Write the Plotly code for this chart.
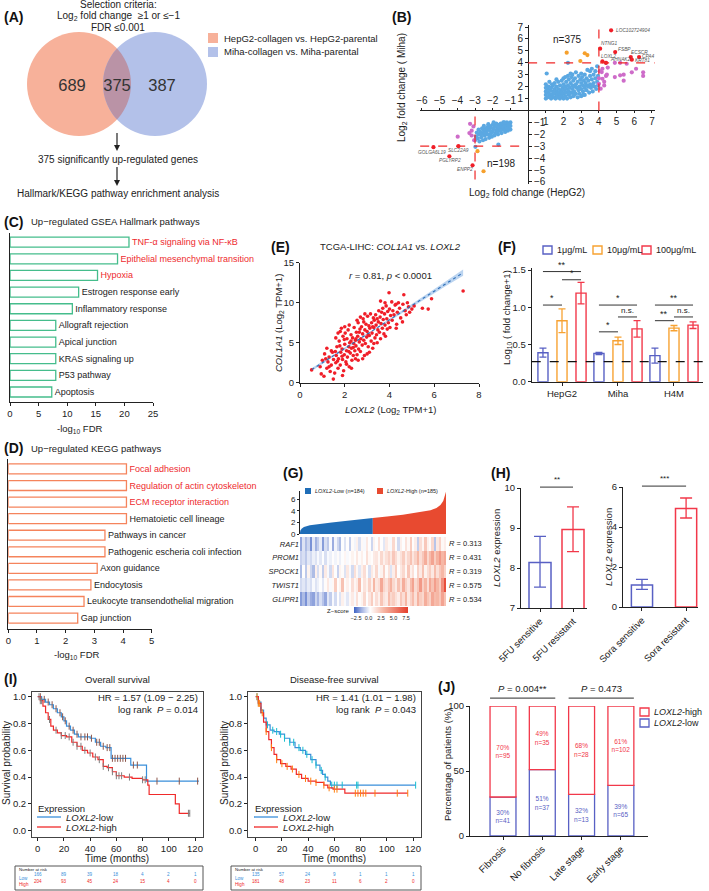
import numpy as np
import plotly.graph_objects as go

W, H = 709, 891
FONT = "Liberation Sans, Arial, Helvetica, sans-serif"
DARK = "#222222"

# ======================= DATA =======================
# (A) Venn
venn_sets = ["HepG2-collagen vs. HepG2-parental", "Miha-collagen vs. Miha-parental"]
venn_counts = [689, 375, 387]          # HepG2 only, shared, Miha only
venn_steps = ["375 significantly up-regulated genes", "Hallmark/KEGG pathway enrichment analysis"]

# (B) log2 fold change HepG2 (x) vs Miha (y)
b_blue_pos = [(1.0,1.0),(1.0,1.3),(1.0,1.6),(1.0,1.9),(1.0,2.2),(1.05,3.1),(1.1,1.1),(1.1,1.5),(1.1,1.8),(1.15,2.0),
              (1.2,1.2),(1.2,1.4),(1.25,1.7),(1.3,1.0),(1.3,1.9),(1.35,1.3),(1.4,1.6),(1.4,2.1),(1.45,1.1),(1.5,1.4),
              (1.5,1.8),(1.5,2.3),(1.55,1.0),(1.6,1.2),(1.6,1.6),(1.6,2.0),(1.65,1.4),(1.7,1.1),(1.7,1.8),(1.7,2.4),
              (1.75,1.5),(1.8,1.0),(1.8,1.3),(1.8,2.1),(1.85,1.7),(1.9,1.2),(1.9,1.5),(1.9,2.5),(1.95,1.9),(2.0,1.0),
              (2.0,1.4),(2.0,2.2),(2.0,2.7),(2.05,1.7),(2.1,1.2),(2.1,2.0),(2.15,1.5),(2.15,2.4),(2.2,1.0),(2.2,1.8),
              (2.25,2.9),(2.25,2.1),(2.3,1.3),(2.3,1.6),(2.3,2.6),(2.35,1.9),(2.4,1.1),(2.4,2.3),(2.45,1.5),(2.45,2.8),
              (2.5,1.8),(2.5,2.1),(2.5,3.0),(2.55,1.2),(2.55,2.5),(2.6,1.6),(2.6,2.0),(2.65,2.7),(2.7,1.4),(2.7,2.2),
              (2.7,3.2),(2.75,1.9),(2.8,1.1),(2.8,2.4),(2.85,1.7),(2.85,2.9),(2.9,2.0),(2.9,1.4),(2.95,2.6),(3.0,1.2),
              (3.0,1.8),(3.0,2.3),(3.0,3.1),(3.05,2.8),(3.1,1.6),(3.1,2.1),(3.15,2.5),(3.2,1.3),(3.2,1.9),(3.2,3.0),
              (3.25,2.3),(3.3,1.7),(3.3,2.7),(3.35,3.4),(3.4,2.0),(3.4,2.5),(3.45,1.5),(3.5,2.2),(3.5,2.9),(3.5,3.3),
              (3.55,1.9),(3.6,2.6),(3.6,3.5),(3.65,1.6),(3.7,2.3),(3.7,3.0),(3.75,2.0),(3.8,2.7),(3.8,3.3),(3.85,1.8),
              (3.9,2.4),(3.9,3.7),(3.95,2.1),(3.95,2.9),(2.25,4.0),(1.2,2.4),(1.35,2.2),(1.6,2.6),(2.1,2.8),(2.4,3.1),
              (1.25,1.1),(1.45,1.5),(1.65,1.1),(1.85,1.2),(2.05,1.1),(2.35,1.4),(2.6,1.3),(3.1,1.3),(3.3,2.1),(3.6,2.1)]
b_blue_neg = [(-1.0,-1.0),(-1.0,-1.3),(-1.0,-1.6),(-1.1,-1.1),(-1.1,-1.4),(-1.15,-1.7),(-1.2,-1.0),(-1.2,-1.25),
              (-1.25,-1.5),(-1.3,-1.1),(-1.3,-1.8),(-1.35,-1.35),(-1.4,-1.0),(-1.4,-1.6),(-1.45,-1.2),(-1.5,-1.45),
              (-1.5,-1.9),(-1.55,-1.1),(-1.6,-1.3),(-1.6,-1.7),(-1.68,-2.86),(-1.65,-1.5),(-1.7,-1.2),(-1.7,-2.0),
              (-1.75,-1.4),(-1.8,-1.65),(-1.8,-1.1),(-1.85,-1.9),(-1.9,-1.3),(-1.9,-2.1),(-1.95,-1.55),(-2.0,-1.2),
              (-2.0,-1.8),(-2.05,-2.2),(-2.1,-1.45),(-2.1,-1.95),(-2.15,-1.7),(-2.2,-1.3),(-2.2,-2.3),(-2.25,-1.6),
              (-2.3,-2.0),(-2.3,-1.4),(-2.35,-1.8),(-2.4,-2.4),(-2.4,-1.55),(-2.45,-2.1),(-2.5,-1.7),(-2.5,-1.3),
              (-2.55,-2.5),(-2.6,-1.95),(-2.6,-1.5),(-2.65,-2.25),(-2.7,-1.8),(-2.75,-2.6),(-2.8,-2.0),(-2.8,-1.6),
              (-2.85,-2.35),(-2.9,-1.85),(-2.95,-2.2),(-3.0,-2.5),(-2.98,-3.05),(-1.2,-1.5),(-1.55,-1.7),(-1.95,-1.0),
              (-2.15,-2.05),(-2.45,-1.9),(-1.35,-1.0),(-1.75,-1.8),(-2.25,-1.15),(-2.65,-2.0)]
b_pink = [(4.16,3.22),(4.2,2.66),(4.0,2.24),(4.3,2.1),(4.1,1.83),(4.4,2.9),(4.5,3.6),(4.9,2.8),(5.2,2.95),(5.57,3.92),
          (5.2,4.0),(5.4,3.0),(5.4,2.5),(5.86,3.2),(6.1,3.5),(6.5,3.2),(6.5,2.9),(4.2,3.5),(4.45,3.0),(4.05,3.3),
          (4.4,4.0),(4.0,2.7),(4.9,4.0),(4.3,2.4),
          (-3.28,-1.12),(-3.09,-1.34),(-3.32,-1.9),(-3.19,-2.1),(-3.98,-2.2),(-3.05,-2.5),(-3.19,-1.7)]
b_orange = [(2.18,4.85),(3.2,4.8),(3.35,4.65),(2.95,4.15),(-2.86,-3.42),(-2.52,-5.1)]
b_red_genes = [("LOC102724904",4.69,6.72),("NTNG1",4.07,5.18),("FSBP",4.92,4.9),("ECSCR",5.8,4.48),("CPA4",6.27,4.48),
               ("LOXL2",4.2,4.12),("AHNAK2",4.4,4.0),("KRT81",5.86,4.26),
               ("GOLGA6L19",-5.35,-3.08),("SLC22A9",-3.94,-3.0),("PGLYRP2",-4.45,-3.84),("ENPP2",-3.14,-4.6)]
b_counts = ["n=375", "n=198"]

# (C) Hallmark
hallmark_names = ["TNF-α signaling via NF-κB", "Epithelial mesenchymal transition", "Hypoxia",
                  "Estrogen response early", "Inflammatory response", "Allograft rejection",
                  "Apical junction", "KRAS signaling up", "P53 pathway", "Apoptosis"]
hallmark_logfdr = [20.8, 18.8, 15.3, 12.0, 10.9, 8.0, 8.0, 8.0, 8.0, 7.3]
# (D) KEGG
kegg_names = ["Focal adhesion", "Regulation of actin cytoskeleton", "ECM receptor interaction",
              "Hematoietic cell lineage", "Pathways in cancer", "Pathogenic escheria coli infection",
              "Axon guidance", "Endocytosis", "Leukocyte transendothelial migration", "Gap junction"]
kegg_logfdr = [4.12, 4.12, 4.12, 4.12, 3.37, 3.37, 3.1, 2.88, 2.64, 2.42]
highlight_n = 3

# (E) TCGA-LIHC COL1A1 vs LOXL2 (log2 TPM+1)
tcga_pairs = [(0.52,1.6),(0.95,1.1),(1.07,0.8),(1.49,0.45),(0.9,2.0),(1.0,2.8),(1.1,3.6),(1.2,1.8),(1.25,2.6),(1.3,3.2),
    (1.35,1.4),(1.4,2.2),(1.45,3.8),(1.5,2.9),(1.15,3.0),(1.4,4.0),(1.3,2.0),(1.2,4.3),
    (1.55,1.2),(1.6,2.5),(1.62,3.4),(1.65,4.5),(1.7,1.8),(1.72,3.0),(1.75,5.2),(1.8,2.2),(1.82,3.8),(1.85,6.8),
    (1.88,4.2),(1.9,2.9),(1.92,5.8),(1.95,1.5),(1.98,3.5),(2.0,4.8),(2.02,6.2),(2.05,2.6),(2.08,4.0),(2.1,5.5),
    (2.12,3.2),(2.15,6.6),(2.18,4.5),(2.2,2.0),(2.22,5.0),(2.25,3.7),(2.28,6.0),(2.3,4.3),(2.32,2.8),(2.35,5.6),
    (2.38,3.4),(2.4,4.9),(2.42,6.9),(2.45,4.0),(2.48,5.3),(1.6,5.6),(1.7,6.2),(1.8,6.4),(2.0,7.0),(2.2,7.2),
    (1.58,3.9),(1.68,2.7),(1.78,4.6),(1.88,3.3),(1.98,5.4),(2.08,2.3),(2.18,3.9),(2.28,5.2),(2.38,4.4),(2.48,3.0),
    (1.9,0.9),(2.3,1.8),
    (2.5,4.6),(2.52,6.3),(2.55,3.5),(2.58,5.8),(2.6,7.5),(2.62,4.2),(2.65,5.1),(2.68,6.7),(2.7,3.9),(2.72,5.5),
    (2.75,7.0),(2.78,4.7),(2.8,6.1),(2.82,8.0),(2.85,5.3),(2.88,3.4),(2.9,6.6),(2.92,4.9),(2.95,7.3),(2.98,5.7),
    (3.0,6.4),(3.02,8.3),(3.05,4.5),(3.08,7.1),(3.1,5.9),(3.12,6.8),(3.15,8.6),(3.18,5.2),(3.2,7.5),(3.22,6.2),
    (3.25,4.3),(3.28,8.1),(3.3,6.9),(3.32,7.8),(3.35,5.6),(3.38,8.5),(3.4,7.2),(3.42,6.0),(3.45,8.0),(3.48,6.6),
    (2.55,7.8),(2.7,8.2),(2.9,8.6),(3.1,3.8),(3.3,4.9),(2.6,2.8),(2.8,3.0),(3.0,3.6),(2.5,5.5),(2.65,6.3),
    (2.85,7.6),(3.05,6.0),(3.25,7.0),(3.45,5.0),
    (3.5,7.6),(3.52,9.0),(3.55,6.3),(3.58,8.2),(3.6,5.5),(3.62,7.4),(3.65,8.8),(3.68,6.8),(3.7,9.3),(3.72,7.9),
    (3.75,6.1),(3.78,8.6),(3.8,7.2),(3.82,5.8),(3.85,9.6),(3.88,8.0),(3.9,6.7),(3.92,8.9),(3.95,7.5),(3.98,11.25),
    (4.0,9.2),(4.02,6.9),(4.05,8.4),(4.1,10.1),(4.12,7.8),(4.15,9.0),(4.2,8.5),(4.25,9.7),(4.29,9.8),(4.32,7.3),
    (4.35,8.8),(4.4,10.0),(4.45,9.3),(4.5,8.1),(3.6,10.2),(3.8,10.0),(4.3,6.8),
    (4.58,7.6),(4.64,11.0),(4.7,9.0),(4.75,8.5),(4.8,10.0),(4.85,9.5),(5.0,9.2),(5.1,9.6),(5.47,9.3),(5.73,9.2),
    (5.88,10.5),(7.29,11.46),(4.6,9.8),(4.9,8.8)]
tcga_fit = (1.79, 0.70)   # slope, intercept of the drawn regression line
tcga_stat = "<i>r</i> = 0.81, <i>p</i> < 0.0001"

# (F)
f_groups = ["HepG2", "Miha", "H4M"]
f_doses = ["1μg/mL", "10μg/mL", "100μg/mL"]
f_means = [[0.39, 0.38, 0.35], [0.82, 0.55, 0.72], [1.19, 0.71, 0.76]]
f_errs = [[0.06, 0.015, 0.10], [0.16, 0.05, 0.035], [0.145, 0.11, 0.045]]
f_baseline = 0.27
f_sig = [(0, 0, 2, 1.48, "**"), (0, 1, 2, 1.37, "*"), (0, 0, 1, 1.03, "*"),
         (1, 0, 2, 1.03, "*"), (1, 1, 2, 0.87, "n.s."), (1, 0, 1, 0.67, "*"),
         (2, 0, 2, 1.03, "**"), (2, 1, 2, 0.87, "n.s."), (2, 0, 1, 0.82, "**")]

# (G)
g_groups = ["Low (n=184)", "High (n=185)"]
g_n_low = 184
g_curve_idx = [0, 1, 4, 10, 25, 50, 80, 120, 160, 184, 185, 220, 260, 300, 330, 345, 355, 362, 366, 369]
g_curve_val = [0.3, 0.6, 0.9, 1.2, 1.5, 1.75, 2.0, 2.3, 2.55, 2.75, 2.76, 3.0, 3.3, 3.7, 4.1, 4.5, 5.0, 5.7, 6.5, 7.3]
g_genes = ["RAF1", "PROM1", "SPOCK1", "TWIST1", "GLIPR1"]
g_R = ["0.313", "0.431", "0.319", "0.575", "0.534"]
g_heat = [
    [-1.6,-0.3,-1.2,-0.6,-2.0,-0.2,-1.4,-0.8,-0.1,-1.8,-0.4,-0.9,0.2,-1.5,0.1,-0.6,-1.2,0.3,-0.3,0.4,
     -0.8,0.5,0.1,0.9,-0.4,0.6,0.2,1.2,0.3,-0.6,0.8,0.3,1.5,0.4,-0.2,1.1,0.6,0.2,1.8,0.5,
     -0.5,0.9,0.3,1.4,0.6,2.2,0.4,1.0,-0.8,1.6,0.7,2.4,0.9,0.5,1.8,-1.0,1.2,2.0,0.6,1.0],
    [-0.7,-0.4,-0.9,-0.2,-0.5,0.0,-0.3,0.2,-0.2,0.3,-0.4,0.2,0.0,0.4,0.1,0.5,0.0,0.3,0.7,0.2,
     0.4,0.8,0.3,1.2,0.5,0.9,0.3,1.5,0.6,0.4,1.1,1.3,0.6,1.8,0.9,1.5,2.0,1.2,2.4,1.6,
     0.8,1.4,2.2,1.0,1.8,2.6,1.3,2.0,3.0,1.6,2.4,3.4,1.8,2.8,3.8,2.2,3.2,4.2,3.0,3.6],
    [-1.2,0.4,-0.9,0.8,-0.6,-1.2,0.9,-0.4,0.6,-0.8,1.1,0.2,-0.5,1.3,0.3,-0.7,0.8,0.5,-0.3,1.2,
     0.2,-0.5,1.5,0.6,-0.2,0.9,1.6,0.3,-0.4,1.1,0.6,1.8,0.2,0.8,2.0,0.5,1.4,-0.3,1.0,2.2,
     0.4,1.2,1.8,0.6,2.4,0.9,1.5,0.3,2.0,1.1,2.6,0.8,1.6,2.2,1.2,2.8,1.5,2.4,3.0,2.0],
    [-0.5,-0.2,-0.6,-0.1,-0.4,0.2,-0.3,0.0,0.3,-0.2,0.5,1.2,0.2,0.6,2.2,0.4,0.8,2.6,0.5,0.9,
     0.3,1.6,0.7,1.1,2.8,0.5,1.4,0.8,2.0,0.9,3.0,1.2,1.6,3.6,1.9,1.4,2.4,3.2,1.8,1.1,
     2.6,1.5,3.4,2.0,1.3,2.8,3.8,1.7,2.4,4.2,2.1,3.0,1.6,3.6,2.6,4.0,3.0,2.2,4.6,7.2],
    [-1.8,-1.2,-2.0,-0.8,-1.5,-1.7,-0.6,-1.3,-0.4,-1.0,-1.6,-0.2,-0.8,0.2,-0.5,0.4,-0.3,0.9,0.2,-0.2,
     0.6,1.1,0.2,1.5,0.5,0.8,1.8,0.3,1.3,2.2,0.6,1.6,0.9,2.5,1.4,1.1,2.8,1.8,2.2,1.5,
     1.0,2.4,1.6,3.0,1.2,2.0,2.8,1.5,3.2,2.2,1.8,3.4,2.5,2.0,3.6,2.8,3.0,2.4,3.8,2.6]]
g_ticks = [-2.5, 0.0, 2.5, 5.0, 7.5]

# (H)
h_fu_labels = ["5FU sensitive", "5FU resistant"]
h_fu_mean = [8.14, 8.96]
h_fu_lo = [7.52, 8.41]
h_fu_hi = [8.79, 9.53]
h_so_labels = ["Sora sensitive", "Sora resistant"]
h_so_mean = [1.10, 4.93]
h_so_lo = [0.88, 4.45]
h_so_hi = [1.38, 5.45]
h_sig = ["**", "***"]

# (I) Kaplan-Meier
os_low_t = [0, 3, 6, 9, 12, 15, 18, 20, 22, 25, 28, 31, 40, 44, 48, 52, 56, 71, 83, 123]
os_low_s = [1.0, 0.98, 0.96, 0.94, 0.91, 0.88, 0.85, 0.82, 0.78, 0.75, 0.72, 0.70, 0.69, 0.66, 0.63, 0.62, 0.54, 0.49, 0.37, 0.37]
os_high_t = [0, 2, 4, 6, 8, 10, 12, 15, 18, 22, 26, 30, 34, 38, 42, 46, 50, 53, 57, 60, 66, 72, 80, 84, 85, 104, 105, 108, 116]
os_high_s = [1.0, 0.97, 0.93, 0.88, 0.83, 0.78, 0.75, 0.73, 0.71, 0.70, 0.66, 0.63, 0.60, 0.58, 0.55, 0.53, 0.48, 0.47, 0.44, 0.41, 0.40, 0.39, 0.38, 0.34, 0.27, 0.27, 0.20, 0.13, 0.13]
os_low_cens = [2, 5, 8, 11, 14, 17, 19, 21, 24, 27, 30, 33, 36, 38, 41, 45, 47, 50, 53, 55, 57, 59, 61, 63, 65, 67, 73, 76, 91, 108, 122]
os_high_cens = [1, 2, 3, 9, 14, 18, 21, 24, 27, 30, 33, 36, 40, 44, 47, 50, 54, 57, 60, 62, 64, 70, 80, 82, 115, 116]
dfs_low_t = [0, 2, 4, 6, 8, 11, 14, 18, 22, 26, 30, 34, 38, 42, 46, 49, 51, 53, 55, 57, 122]
dfs_low_s = [1.0, 0.96, 0.90, 0.84, 0.79, 0.75, 0.74, 0.72, 0.69, 0.66, 0.62, 0.60, 0.57, 0.53, 0.49, 0.45, 0.42, 0.40, 0.37, 0.34, 0.34]
dfs_high_t = [0, 2, 4, 6, 8, 10, 12, 14, 16, 19, 23, 27, 31, 35, 40, 46, 52, 55, 59, 68, 116]
dfs_high_s = [1.0, 0.95, 0.88, 0.81, 0.74, 0.68, 0.62, 0.57, 0.53, 0.50, 0.48, 0.46, 0.42, 0.39, 0.37, 0.36, 0.34, 0.32, 0.31, 0.28, 0.28]
dfs_low_cens = [1, 2, 4, 6, 9, 13, 16, 19, 22, 26, 29, 33, 36, 39, 43, 46, 50, 53, 58, 60, 62, 66, 77, 78, 122]
dfs_high_cens = [1, 2, 3, 5, 8, 12, 16, 20, 24, 28, 33, 38, 42, 46, 52, 56, 60, 62, 76, 78, 80, 82, 84, 91, 108, 116]
km_titles = ["Overall survival", "Disease-free survival"]
km_hr = ["HR = 1.57 (1.09 − 2.25)", "HR = 1.41 (1.01 − 1.98)"]
km_p = ["0.014", "0.043"]
risk_times = [0, 20, 40, 60, 80, 100, 120]
os_risk_low = [166, 89, 39, 18, 4, 2, 1]
os_risk_high = [204, 93, 45, 24, 15, 4, 0]
dfs_risk_low = [135, 57, 24, 9, 1, 1, 1]
dfs_risk_high = [181, 48, 23, 11, 6, 2, 0]

# (J)
j_cats = ["Fibrosis", "No fibrosis", "Late stage", "Early stage"]
j_low_pct = [30, 51, 32, 39]
j_high_pct = [70, 49, 68, 61]
j_low_n = [41, 37, 13, 65]
j_high_n = [95, 35, 28, 102]
j_pvals = ["0.004**", "0.473"]

# ======================= STYLE / HELPERS =======================
BLUE_F, ORANGE_F, RED_F = "#5860C4", "#F7A232", "#F2384A"
GREEN_C, ORANGE_D, RED_TXT = "#45BD8C", "#F5845C", "#EE2A2E"
KM_BLUE, KM_RED = "#3A8FDA", "#F02A2A"

def PX(x): return x / W
def PY(y): return 1 - y / H

fig = go.Figure()
ann, shp, axes, AXI = [], [], {}, {}

def text(t, x, y, size=10, color=DARK, xa="center", ya="middle", angle=0, xref="paper", yref="paper", pad=1):
    if xref == "paper": x = PX(x)
    if yref == "paper": y = PY(y)
    ann.append(dict(text=t, x=x, y=y, xref=xref, yref=yref, showarrow=False, textangle=angle, borderpad=pad,
                    font=dict(size=size, color=color, family=FONT), xanchor=xa, yanchor=ya))

AX = dict(showgrid=False, zeroline=False, showline=True, linecolor=DARK, linewidth=1, automargin=False,
          ticks="outside", ticklen=3, tickwidth=1, tickcolor=DARK,
          tickfont=dict(size=9.5, color=DARK, family=FONT))

def set_axes(n, xpx, ypx, xr, yr, xkw=None, ykw=None):
    s = "" if n == 1 else str(n)
    xa = dict(AX, domain=[PX(xpx[0]), PX(xpx[1])], range=xr, anchor="y" + s)
    ya = dict(AX, domain=[PY(ypx[1]), PY(ypx[0])], range=yr, anchor="x" + s)
    if xkw: xa.update(xkw)
    if ykw: ya.update(ykw)
    axes["xaxis" + s] = xa
    axes["yaxis" + s] = ya
    AXI[n] = (xpx, ypx, xr, yr)

def ypaper(n, v):
    xpx, ypx, xr, yr = AXI[n]
    f = (v - yr[0]) / (yr[1] - yr[0])
    return PY(ypx[1]) + f * (PY(ypx[0]) - PY(ypx[1]))

def panel(letter, x, y):
    text(f"<b>({letter})</b>", x, y, size=14, color="#111", xa="left")

# ======================= (A) Venn =======================
set_axes(1, (0, 330), (0, 200), [0, 330], [200, 0], xkw=dict(visible=False), ykw=dict(visible=False))
cxL, cxR, cy, r = 79, 155, 84, 52
C_L, C_R, C_M = "#F7B19A", "#B3C1E9", "#BA93A6"
shp.append(dict(type="circle", xref="x", yref="y", x0=cxL - r, x1=cxL + r, y0=cy - r, y1=cy + r,
                fillcolor=C_L, line=dict(width=0), layer="below"))
shp.append(dict(type="circle", xref="x", yref="y", x0=cxR - r, x1=cxR + r, y0=cy - r, y1=cy + r,
                fillcolor=C_R, line=dict(width=0), layer="below"))
a = np.arccos((cxR - cxL) / 2 / r)
pts = [(cxL + r * np.cos(t), cy + r * np.sin(t)) for t in np.linspace(-a, a, 40)]
pts += [(cxR + r * np.cos(t), cy + r * np.sin(t)) for t in np.linspace(np.pi - a, np.pi + a, 40)]
shp.append(dict(type="path", xref="x", yref="y", layer="below", fillcolor=C_M, line=dict(width=0),
                path="M " + " L ".join(f"{p[0]:.2f},{p[1]:.2f}" for p in pts) + " Z"))
fig.add_trace(go.Scatter(x=[72, 117, 162], y=[87, 87, 87], mode="text", text=[str(c) for c in venn_counts],
                         textfont=dict(size=16.5, color="#333", family=FONT), xaxis="x", yaxis="y", hoverinfo="skip"))
text("Selection criteria:", 118, 5)
text("Log<sub>2</sub> fold change  ≥1 or ≤−1", 118, 16)
text("FDR ≤0.001", 118, 28)
for i, (lab, col) in enumerate(zip(venn_sets, [C_L, C_R])):
    yy = 38 + 14 * i
    shp.append(dict(type="rect", xref="paper", yref="paper", x0=PX(208), x1=PX(218), y0=PY(yy + 5), y1=PY(yy - 5),
                    fillcolor=col, line=dict(width=0)))
    text(lab, 222, yy, size=9.5, xa="left")
for (y0, y1) in [(133, 151), (167, 186)]:
    shp.append(dict(type="line", xref="x", yref="y", x0=117, x1=117, y0=y0, y1=y1 - 3, line=dict(color="#222", width=1.2)))
    shp.append(dict(type="path", xref="x", yref="y", path=f"M 114,{y1 - 6} L 120,{y1 - 6} L 117,{y1} Z",
                    fillcolor="#222", line=dict(width=0)))
text(venn_steps[0], 118, 160)
text(venn_steps[1], 118, 193)
panel("A", 2, 17)

# ======================= (B) =======================
bxr, byr = [-6.11, 7.17], [-6.17, 7.17]
BTF = dict(size=10, color=DARK, family=FONT)
axes["xaxis2"] = dict(AX, domain=[PX(420), PX(655)], range=bxr, anchor="free", position=PY(110),
                      tickvals=[1, 2, 3, 4, 5, 6, 7], side="bottom", tickfont=BTF, ticklen=2)
axes["yaxis2"] = dict(AX, domain=[PY(184), PY(25)], range=byr, anchor="free", position=PX(528),
                      tickvals=[1, 2, 3, 4, 5, 6, 7], side="left", tickfont=BTF)
axes["xaxis3"] = dict(AX, overlaying="x2", range=bxr, anchor="free", position=PY(110), side="top",
                      tickvals=[-6, -5, -4, -3, -2, -1], showline=False, tickfont=BTF, ticklen=2)
axes["yaxis3"] = dict(AX, overlaying="y2", range=byr, anchor="free", position=PX(528), side="right",
                      tickvals=[-1, -2, -3, -4, -5, -6], showline=False, tickfont=BTF, ticklen=3)
fig.add_trace(go.Scatter(x=[0], y=[0], xaxis="x3", yaxis="y3", mode="markers", marker=dict(opacity=0), hoverinfo="skip"))
for (x0, x1, y0, y1) in [(4, 4, 0, 7.15), (0, 7.15, 4, 4), (-3, -3, -0.5, -6.15), (-6.1, 0, -3, -3)]:
    shp.append(dict(type="line", xref="x2", yref="y2", x0=x0, x1=x1, y0=y0, y1=y1,
                    line=dict(color="#F02828", width=1.2, dash="dash")))
def sc(pairs, col, size=4.2):
    fig.add_trace(go.Scatter(x=[p[0] for p in pairs], y=[p[1] for p in pairs], mode="markers",
                             marker=dict(color=col, size=size, line=dict(width=0)), xaxis="x2", yaxis="y2",
                             hoverinfo="skip", cliponaxis=False))
sc(b_blue_pos + b_blue_neg, "#5BA8E2")
sc(b_pink, "#CE6CC9")
sc(b_orange, "#F6A02C")
sc([(g[1], g[2]) for g in b_red_genes], "#F01E28")
b_label_pos = {"LOC102724904": (4.9, 6.75, "left"), "NTNG1": (4.08, 5.6, "left"), "FSBP": (5.0, 5.15, "left"),
               "ECSCR": (5.75, 4.85, "left"), "CPA4": (6.38, 4.55, "left"), "LOXL2": (4.05, 4.55, "left"),
               "AHNAK2": (4.55, 4.25, "left"), "KRT81": (5.98, 4.22, "left"),
               "GOLGA6L19": (-5.45, -3.55, "center"), "SLC22A9": (-3.95, -3.4, "center"),
               "PGLYRP2": (-4.4, -4.22, "center"), "ENPP2": (-3.55, -4.95, "center")}
for g, gx, gy in b_red_genes:
    lx, ly, anc = b_label_pos[g]
    text(f"<i>{g}</i>", lx, ly, size=4.8, color="#555", xa=anc, xref="x2", yref="y2", pad=0)
text(b_counts[0], 2.2, 5.95, size=10, xref="x2", yref="y2")
text(b_counts[1], -1.5, -4.43, size=10, xref="x2", yref="y2")
text("Log<sub>2</sub> fold change (HepG2)", 527, 193, size=10)
text("Log<sub>2</sub> fold change ( Miha)", 402, 88, size=10, angle=-90)
panel("B", 390, 17)

# ======================= (C) =======================
def hbar(n, names, vals, col):
    fig.add_trace(go.Bar(x=vals, y=list(range(len(vals))), orientation="h", width=0.6,
                         marker=dict(color="white", line=dict(color=col, width=1.3)),
                         text=names, textposition="outside", constraintext="none", cliponaxis=False,
                         textfont=dict(size=9, family=FONT,
                                       color=[RED_TXT if i < highlight_n else DARK for i in range(len(vals))]),
                         xaxis=f"x{n}", yaxis=f"y{n}", hoverinfo="skip"))
set_axes(4, (10, 153), (233, 402), [0, 25], [9.6, -0.55], xkw=dict(tickvals=[0, 5, 10, 15, 20, 25]),
         ykw=dict(showticklabels=False, ticks=""))
hbar(4, hallmark_names, hallmark_logfdr, GREEN_C)
text("-log<sub>10</sub> FDR", 80, 429, size=9.5)
panel("C", 2, 222)
text("Up−regulated GSEA Hallmark pathways", 29, 222, size=9.5, xa="left")

# ======================= (D) =======================
set_axes(5, (8.3, 151.7), (459, 629), [0, 5], [9.66, -0.6], xkw=dict(tickvals=[0, 1, 2, 3, 4, 5]),
         ykw=dict(showticklabels=False, ticks=""))
hbar(5, kegg_names, kegg_logfdr, ORANGE_D)
text("-log<sub>10</sub> FDR", 77, 655, size=9.5)
panel("D", 2, 448)
text("Up−regulated KEGG pathways", 29, 448, size=9.5, xa="left")

# ======================= (E) =======================
set_axes(6, (300, 479), (262.7, 382.7), [0, 8], [0, 15], xkw=dict(tickvals=[0, 2, 4, 6, 8]),
         ykw=dict(tickvals=[0, 5, 10, 15]))
ex = np.array([p[0] for p in tcga_pairs]); ey = np.array([p[1] for p in tcga_pairs])
xx = np.linspace(ex.min(), ex.max(), 60)
yy = tcga_fit[0] * xx + tcga_fit[1]
hw = 0.1 + 0.015 * (xx - ex.mean()) ** 2
fig.add_trace(go.Scatter(x=xx, y=yy - hw, mode="lines", line=dict(width=0), xaxis="x6", yaxis="y6", hoverinfo="skip"))
fig.add_trace(go.Scatter(x=xx, y=yy + hw, mode="lines", line=dict(width=0), fill="tonexty",
                         fillcolor="rgba(120,170,225,0.5)", xaxis="x6", yaxis="y6", hoverinfo="skip"))
fig.add_trace(go.Scatter(x=ex, y=ey, mode="markers", marker=dict(color="#F01E28", size=3.6, line=dict(width=0)),
                         xaxis="x6", yaxis="y6", hoverinfo="skip", cliponaxis=False))
fig.add_trace(go.Scatter(x=xx, y=yy, mode="lines", line=dict(color="#2F6FB8", width=1.1, dash="dot"),
                         xaxis="x6", yaxis="y6", hoverinfo="skip"))
text("TCGA-LIHC: <i>COL1A1</i> vs. <i>LOXL2</i>", 390, 247, size=9.5)
text(tcga_stat, 390, 275, size=9.5)
text("<i>LOXL2</i> (Log<sub>2</sub> TPM+1)", 390, 410, size=9.5)
text("<i>COL1A1</i> (Log<sub>2</sub> TPM+1)", 279, 323, size=9.5, angle=-90)
panel("E", 269, 247)

# ======================= (F) =======================
set_axes(7, (531.7, 703), (268, 381.7), [-0.541, 2.518], [0, 1.528],
         xkw=dict(tickvals=[0, 1, 2], ticktext=f_groups), ykw=dict(tickvals=[0, 0.5, 1.0, 1.5], tickformat=".1f"))
f_off = [-0.34, 0.0, 0.34]
f_cols = [BLUE_F, ORANGE_F, RED_F]
for d in range(3):
    fig.add_trace(go.Bar(x=[g + f_off[d] for g in range(3)], y=f_means[d], width=0.18,
                         marker=dict(color="white", line=dict(color=f_cols[d], width=1.4)),
                         error_y=dict(type="data", array=f_errs[d], color=f_cols[d], thickness=1.3, width=3.5),
                         xaxis="x7", yaxis="y7", hoverinfo="skip"))
shp.append(dict(type="line", xref="x7 domain", yref="y7", x0=0, x1=1, y0=f_baseline, y1=f_baseline,
                line=dict(color="#111", width=1.1, dash="dash")))
for g, d0, d1, yv, lab in f_sig:
    xa_, xb_ = g + f_off[d0], g + f_off[d1]
    shp.append(dict(type="line", xref="x7", yref="y7", x0=xa_, x1=xb_, y0=yv, y1=yv, line=dict(color="#333", width=1)))
    text(lab, (xa_ + xb_) / 2, yv, size=8 if lab == "n.s." else 9, xref="x7", yref="y7", ya="bottom")
text("Log<sub>10</sub> ( fold change+1)", 507, 318, size=9.5, angle=-90)
for i, (lab, col) in enumerate(zip(f_doses, f_cols)):
    x0 = [543, 593, 642][i]
    shp.append(dict(type="rect", xref="paper", yref="paper", x0=PX(x0), x1=PX(x0 + 9), y0=PY(254), y1=PY(246),
                    fillcolor="white", line=dict(color=col, width=1.4)))
    text(lab, x0 + 12, 250, size=9, xa="left")
panel("F", 496, 247)

# ======================= (G) =======================
set_axes(8, (300, 446), (491, 534), [0, 369], [0, 7.41],
         xkw=dict(showline=False, showticklabels=False, ticks=""),
         ykw=dict(tickvals=[0, 2, 4, 6], tickfont=dict(size=8, color=DARK, family=FONT), ticklen=2))
lo_i = [i for i in g_curve_idx if i <= g_n_low]; lo_v = g_curve_val[:len(lo_i)]
hi_i = [g_n_low] + [i for i in g_curve_idx if i > g_n_low]
hi_v = [lo_v[-1]] + g_curve_val[len(lo_i):]
fig.add_trace(go.Scatter(x=lo_i, y=lo_v, fill="tozeroy", mode="lines", line=dict(width=0), fillcolor="#1F6DB7",
                         xaxis="x8", yaxis="y8", hoverinfo="skip"))
fig.add_trace(go.Scatter(x=hi_i, y=hi_v, fill="tozeroy", mode="lines", line=dict(width=0), fillcolor="#E84A30",
                         xaxis="x8", yaxis="y8", hoverinfo="skip"))
set_axes(9, (300, 446), (537, 606), [-0.5, len(g_heat[0]) - 0.5], [4.5, -0.5],
         xkw=dict(showline=False, showticklabels=False, ticks=""),
         ykw=dict(showline=False, ticks="", tickvals=list(range(5)), ticktext=[f"<i>{g}</i>" for g in g_genes],
                  tickfont=dict(size=7.5, color=DARK, family=FONT)))
fig.add_trace(go.Heatmap(z=g_heat, x=list(range(len(g_heat[0]))), y=list(range(5)), zmin=-2.9, zmax=7.9,
                         colorscale=[[0, "#3F63C4"], [0.15, "#A9B8E4"], [0.3, "#FFFFFF"], [0.55, "#F6B6A4"], [1, "#E53E2B"]],
                         xaxis="x9", yaxis="y9", hoverinfo="skip",
                         colorbar=dict(orientation="h", x=PX(381), xanchor="center", y=PY(607), yanchor="top",
                                       len=54, lenmode="pixels", thickness=6, thicknessmode="pixels", xpad=0, ypad=0,
                                       outlinewidth=0, tickvals=g_ticks, ticktext=[f"{t:.1f}".replace("-", "−") for t in g_ticks],
                                       ticks="", tickfont=dict(size=5.5, color=DARK, family=FONT))))
for i, rv in enumerate(g_R):
    text(f"<i>R</i> = {rv}", 447, 543.9 + 13.8 * i, size=7.5, xa="left")
text("Z−score", 352, 611, size=6, xa="right")
for i, (lab, col) in enumerate(zip(g_groups, ["#1F6DB7", "#E84A30"])):
    x0 = [305, 377][i]
    shp.append(dict(type="rect", xref="paper", yref="paper", x0=PX(x0), x1=PX(x0 + 6), y0=PY(494), y1=PY(488),
                    fillcolor=col, line=dict(width=0)))
    text(f"<i>LOXL2</i>-{lab}", x0 + 8, 491, size=5.5, xa="left")
panel("G", 281, 473)

# ======================= (H) =======================
def hpanel(n, labels, means, lo, hi, bw):
    fig.add_trace(go.Bar(x=[0, 1], y=means, width=bw,
                         marker=dict(color="white", line=dict(color=[BLUE_F, RED_F], width=1.5)),
                         xaxis=f"x{n}", yaxis=f"y{n}", hoverinfo="skip"))
    for i, col in enumerate([BLUE_F, RED_F]):
        fig.add_trace(go.Scatter(x=[i], y=[means[i]], mode="markers", marker=dict(size=0.1, color=col),
                                 error_y=dict(type="data", symmetric=False, array=[hi[i] - means[i]],
                                              arrayminus=[means[i] - lo[i]], color=col, thickness=1.3, width=6),
                                 xaxis=f"x{n}", yaxis=f"y{n}", hoverinfo="skip"))
set_axes(10, (521, 587), (488, 608), [-0.576, 1.424], [7, 10],
         xkw=dict(tickvals=[0, 1], ticktext=h_fu_labels, tickangle=-45), ykw=dict(tickvals=[7, 8, 9, 10]))
hpanel(10, h_fu_labels, h_fu_mean, h_fu_lo, h_fu_hi, 0.667)
set_axes(11, (623, 698), (487, 607), [-0.43, 1.27], [0, 6],
         xkw=dict(tickvals=[0, 1], ticktext=h_so_labels, tickangle=-45), ykw=dict(tickvals=[0, 2, 4, 6]))
hpanel(11, h_so_labels, h_so_mean, h_so_lo, h_so_hi, 0.48)
for n, yv, lab in [(10, 10.0, h_sig[0]), (11, 6.0, h_sig[1])]:
    shp.append(dict(type="line", xref=f"x{n}", yref="paper", x0=0, x1=1, y0=ypaper(n, yv) + 0.001, y1=ypaper(n, yv) + 0.001,
                    line=dict(color="#333", width=1)))
    ann.append(dict(text=lab, x=0.5, y=ypaper(n, yv) + 0.002, xref=f"x{n}", yref="paper", showarrow=False,
                    font=dict(size=8, color=DARK, family=FONT), yanchor="bottom"))
text("<i>LOXL2</i> expression", 496, 548, size=9.5, angle=-90)
text("<i>LOXL2</i> expression", 608, 547, size=9.5, angle=-90)
panel("H", 489, 473)

# ======================= (I) =======================
def km_panel(n, xpx, xr, curves, cens, hr, p, title, xmid, ylab_x, risk_box, risk_low, risk_high, leg_x):
    set_axes(n, xpx, (692, 837), xr, [-0.047, 1.035],
             xkw=dict(tickvals=[0, 20, 40, 60, 80, 100, 120], mirror=True, linecolor="#444"),
             ykw=dict(tickvals=[0, 0.2, 0.4, 0.6, 0.8, 1.0], tickformat=".1f", mirror=True, linecolor="#444"))
    for (t, s), c, col in zip(curves, cens, [KM_BLUE, KM_RED]):
        fig.add_trace(go.Scatter(x=t, y=s, mode="lines", line=dict(color=col, width=1.2, shape="hv"),
                                 xaxis=f"x{n}", yaxis=f"y{n}", hoverinfo="skip"))
        cy_ = [s[np.searchsorted(t, ci, side="right") - 1] for ci in c]
        fig.add_trace(go.Scatter(x=c, y=cy_, mode="markers",
                                 marker=dict(symbol="line-ns-open", size=5, line=dict(color=col, width=1)),
                                 xaxis=f"x{n}", yaxis=f"y{n}", hoverinfo="skip"))
    text(hr, xpx[1] - 3, 697, size=9.5, xa="right")
    text(f"log rank  <i>P</i> = {p}", xpx[1] - 3, 709, size=9.5, xa="right")
    text(title, xmid, 679, size=9.5)
    text("Time (months)", xmid, 858.5, size=10, pad=0)
    text("Survival probability", ylab_x, 763, size=10, angle=-90)
    text("Expression", leg_x, 808, size=9.5, xa="left")
    for i, (col, lab) in enumerate([(KM_BLUE, "low"), (KM_RED, "high")]):
        yy_ = 817 + 10 * i
        shp.append(dict(type="line", xref="paper", yref="paper", x0=PX(leg_x + 1), x1=PX(leg_x + 25), y0=PY(yy_), y1=PY(yy_),
                        line=dict(color=col, width=1.3)))
        text(f"<i>LOXL2</i>-{lab}", leg_x + 28, yy_, size=9.5, xa="left")
    shp.append(dict(type="rect", xref="paper", yref="paper", x0=PX(risk_box[0]), x1=PX(risk_box[1]), y0=PY(890), y1=PY(866),
                    line=dict(color="#555", width=1), fillcolor="rgba(0,0,0,0)"))
    text("Number at risk", risk_box[0] + 3, 869.6, size=4.3, xa="left", pad=0)
    text("Low", risk_box[0] + 3, 878.3, size=4.6, xa="left", color=KM_BLUE, pad=0)
    text("High", risk_box[0] + 3, 884.8, size=4.6, xa="left", color=KM_RED, pad=0)
    for t, lo_, hi_ in zip(risk_times, risk_low, risk_high):
        ann.append(dict(text=str(lo_), x=t, y=PY(878.3), xref=f"x{n}", yref="paper", showarrow=False, borderpad=0,
                        font=dict(size=4.6, color=KM_BLUE, family=FONT)))
        ann.append(dict(text=str(hi_), x=t, y=PY(884.8), xref=f"x{n}", yref="paper", showarrow=False, borderpad=0,
                        font=dict(size=4.6, color=KM_RED, family=FONT)))

km_panel(12, (32, 203), [-4.35, 126.1], [(os_low_t, os_low_s), (os_high_t, os_high_s)],
         [os_low_cens, os_high_cens], km_hr[0], km_p[0], km_titles[0], 117, 6, (15, 203),
         os_risk_low, os_risk_high, 36)
km_panel(13, (248, 421), [-5.87, 126.1], [(dfs_low_t, dfs_low_s), (dfs_high_t, dfs_high_s)],
         [dfs_low_cens, dfs_high_cens], km_hr[1], km_p[1], km_titles[1], 334, 224, (231, 421),
         dfs_risk_low, dfs_risk_high, 253)
panel("I", 2, 679)

# ======================= (J) =======================
set_axes(14, (470, 648), (706, 836), [-0.84, 3.69], [0, 100],
         xkw=dict(tickvals=[0, 1, 2, 3], ticktext=j_cats, tickangle=-45), ykw=dict(tickvals=[0, 50, 100]))
fig.add_trace(go.Bar(x=[0, 1, 2, 3], y=j_low_pct, width=0.66, marker=dict(color="white", line=dict(color=BLUE_F, width=1.3)),
                     text=[f"{p}%<br>n={n}" for p, n in zip(j_low_pct, j_low_n)], textposition="inside",
                     insidetextanchor="middle", textangle=0, constraintext="none",
                     textfont=dict(size=6.5, color=BLUE_F, family=FONT), xaxis="x14", yaxis="y14", hoverinfo="skip"))
fig.add_trace(go.Bar(x=[0, 1, 2, 3], y=j_high_pct, base=j_low_pct, width=0.66,
                     marker=dict(color="white", line=dict(color=RED_F, width=1.3)),
                     text=[f"{p}%<br>n={n}" for p, n in zip(j_high_pct, j_high_n)], textposition="inside",
                     insidetextanchor="middle", textangle=0, constraintext="none",
                     textfont=dict(size=6.5, color=RED_F, family=FONT), xaxis="x14", yaxis="y14", hoverinfo="skip"))
for k, pv in enumerate(j_pvals):
    x0, x1 = 2 * k - 0.33, 2 * k + 1.33
    shp.append(dict(type="line", xref="x14", yref="paper", x0=x0, x1=x1, y0=ypaper(14, 106), y1=ypaper(14, 106),
                    line=dict(color="#555", width=1.2)))
    ann.append(dict(text=f"<i>P</i> = {pv}", x=2 * k + 0.5, y=ypaper(14, 107.5), xref="x14", yref="paper",
                    showarrow=False, yanchor="bottom", font=dict(size=9.5, color=DARK, family=FONT)))
text("Percentage of patients (%)", 447, 765, size=9.5, angle=-90)
for i, (col, lab) in enumerate([(RED_F, "high"), (BLUE_F, "low")]):
    yy_ = 712 + 11 * i
    shp.append(dict(type="rect", xref="paper", yref="paper", x0=PX(640), x1=PX(649), y0=PY(yy_ + 4), y1=PY(yy_ - 4),
                    fillcolor="white", line=dict(color=col, width=1.3)))
    text(f"<i>LOXL2</i>-{lab}", 652, yy_, size=9, xa="left")
panel("J", 436, 687)

fig.update_layout(template="none", width=W, height=H, margin=dict(l=0, r=0, t=0, b=0, pad=0), showlegend=False,
                  plot_bgcolor="rgba(0,0,0,0)", paper_bgcolor="white", barmode="overlay",
                  font=dict(family=FONT, color=DARK), annotations=ann, shapes=shp, **axes)
fig.write_html("out.html", config={"displayModeBar": False, "staticPlot": True},
               post_script="document.body.style.margin='0px';document.body.style.padding='0px';"
                           "document.documentElement.style.overflow='hidden';")
